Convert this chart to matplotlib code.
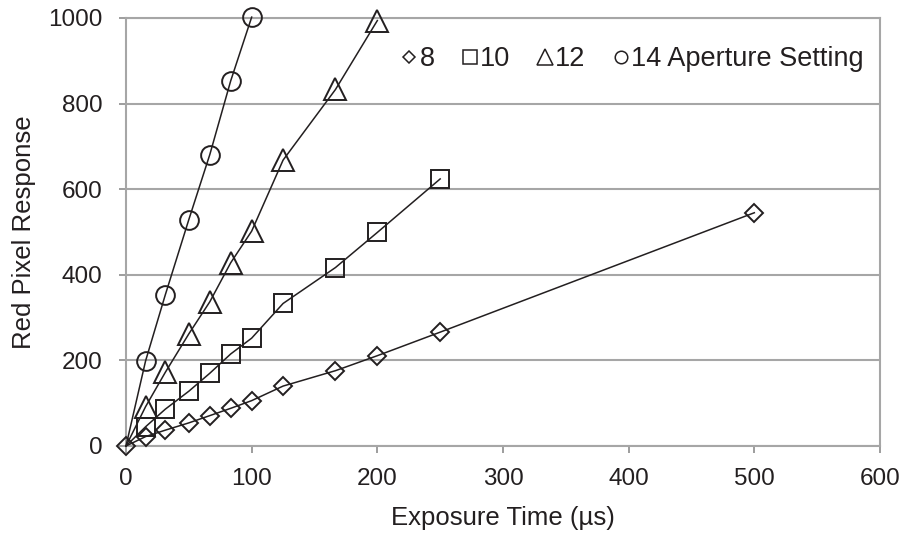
import matplotlib
matplotlib.use("Agg")
import matplotlib.pyplot as plt
from matplotlib.lines import Line2D

# exposure times in microseconds (1/64000 s ... 1/2000 s)
t_8 = [0, 15.6, 31.25, 50, 66.7, 83.3, 100, 125, 166.7, 200, 250, 500]
r_8 = [0, 22, 37, 54, 71, 88, 106, 140, 176, 211, 266, 545]

t_10 = [0, 15.6, 31.25, 50, 66.7, 83.3, 100, 125, 166.7, 200, 250]
r_10 = [0, 45, 86, 128, 170, 215, 252, 333, 417, 499, 624]

t_12 = [0, 15.6, 31.25, 50, 66.7, 83.3, 100, 125, 166.7, 200]
r_12 = [0, 92, 172, 262, 337, 428, 502, 668, 833, 994]

t_14 = [0, 15.6, 31.25, 50, 66.7, 83.3, 100]
r_14 = [0, 199, 353, 529, 681, 853, 1002]

labels = ["8", "10", "12", "14 Aperture Setting"]

plt.rcParams.update({
    "font.family": ["Liberation Sans", "DejaVu Sans"],
    "font.size": 17.5,
    "text.color": "#231f20",
    "axes.labelcolor": "#231f20",
    "xtick.color": "#8c8c8c",
    "ytick.color": "#8c8c8c",
    "xtick.labelcolor": "#231f20",
    "ytick.labelcolor": "#231f20",
})

fig = plt.figure(figsize=(9.04, 5.36), dpi=100)
ax = fig.add_axes([126 / 904, 1 - 446 / 536, 754 / 904, 428 / 536])

grid_c = "#a6a6a6"
ink = "#231f20"
common = dict(color=ink, lw=1.1, mfc="none", mec=ink, mew=1.4, zorder=3, clip_on=False)

ax.plot(t_8, r_8, marker="D", ms=9.5, **common)
ax.plot(t_10, r_10, marker="s", ms=13, markevery=slice(1, None), **common)
ax.plot(t_12, r_12, marker="^", ms=15.5, markevery=slice(1, None), **common)
ax.plot(t_14, r_14, marker="o", ms=13.5, markevery=slice(1, None), **common)

ax.set_xlim(0, 600)
ax.set_ylim(0, 1000)
ax.set_xticks(range(0, 601, 100))
ax.set_yticks(range(0, 1001, 200))
ax.yaxis.grid(True, color=grid_c, lw=1.5)
ax.set_axisbelow(True)
for s in ax.spines.values():
    s.set_color(grid_c)
    s.set_linewidth(1.5)
ax.tick_params(direction="out", length=5, width=1.2, labelsize=17.5)
ax.tick_params(axis="x", pad=11)
ax.tick_params(axis="y", pad=12)

ax.set_xlabel("Exposure Time (\u00b5s)", fontsize=18.5, labelpad=11)
ax.set_ylabel("Red Pixel Response", fontsize=18.5, labelpad=9)

handles = [
    Line2D([], [], ls="none", marker="D", ms=6.5, mfc="none", mec=ink, mew=1.1),
    Line2D([], [], ls="none", marker="s", ms=9.5, mfc="none", mec=ink, mew=1.1),
    Line2D([], [], ls="none", marker="^", ms=11.5, mfc="none", mec=ink, mew=1.1),
    Line2D([], [], ls="none", marker="o", ms=9, mfc="none", mec=ink, mew=1.1),
]
ax.legend(handles, labels, ncol=4, loc="center left",
          bbox_to_anchor=(0.349, 0.904), frameon=False, borderpad=0,
          handlelength=0.5, handletextpad=0.12, columnspacing=1.05,
          fontsize=19.5)

fig.savefig("out.png", dpi=100)
